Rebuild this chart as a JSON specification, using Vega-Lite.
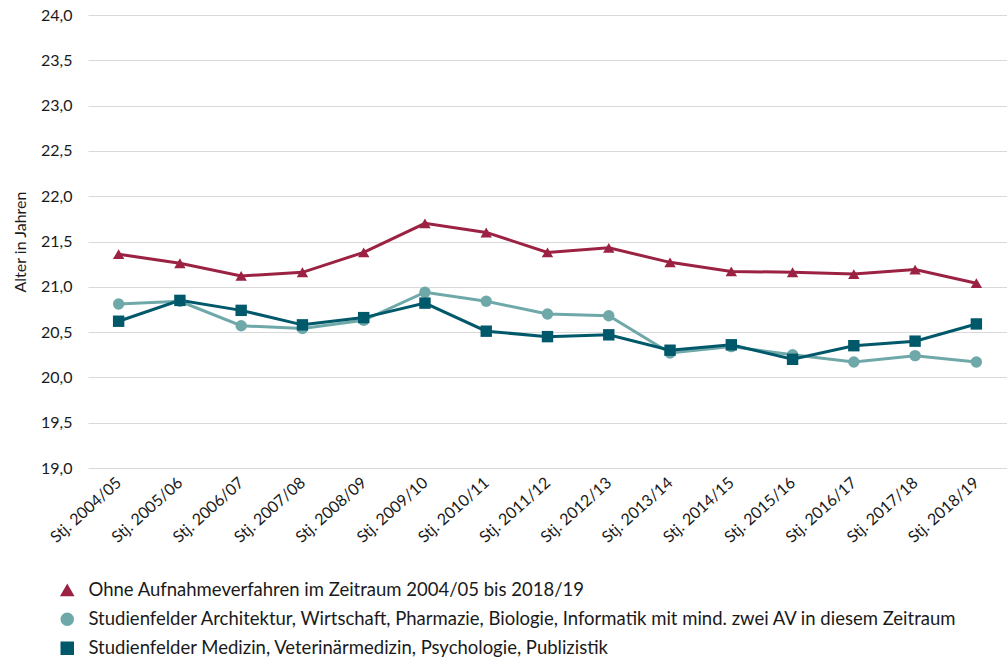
{
  "$schema": "https://vega.github.io/schema/vega-lite/v6.json",
  "autosize": {"type": "none"},
  "padding": {"left": 88, "top": 15, "right": 0, "bottom": 200},
  "width": 919,
  "height": 453,
  "background": "white",
  "config": {
    "font": "Lato",
    "view": {"stroke": null},
    "axis": {"labelColor": "#1a1a1a", "titleColor": "#1a1a1a", "labelFont": "Lato", "titleFont": "Lato"},
    "legend": {"labelFont": "Lato", "labelColor": "#1a1a1a"}
  },
  "data": {
    "values": [
      {"x": "Stj. 2004/05", "s": "Ohne Aufnahmeverfahren im Zeitraum 2004/05 bis 2018/19", "v": 21.36},
      {"x": "Stj. 2005/06", "s": "Ohne Aufnahmeverfahren im Zeitraum 2004/05 bis 2018/19", "v": 21.26},
      {"x": "Stj. 2006/07", "s": "Ohne Aufnahmeverfahren im Zeitraum 2004/05 bis 2018/19", "v": 21.12},
      {"x": "Stj. 2007/08", "s": "Ohne Aufnahmeverfahren im Zeitraum 2004/05 bis 2018/19", "v": 21.16},
      {"x": "Stj. 2008/09", "s": "Ohne Aufnahmeverfahren im Zeitraum 2004/05 bis 2018/19", "v": 21.38},
      {"x": "Stj. 2009/10", "s": "Ohne Aufnahmeverfahren im Zeitraum 2004/05 bis 2018/19", "v": 21.70},
      {"x": "Stj. 2010/11", "s": "Ohne Aufnahmeverfahren im Zeitraum 2004/05 bis 2018/19", "v": 21.60},
      {"x": "Stj. 2011/12", "s": "Ohne Aufnahmeverfahren im Zeitraum 2004/05 bis 2018/19", "v": 21.38},
      {"x": "Stj. 2012/13", "s": "Ohne Aufnahmeverfahren im Zeitraum 2004/05 bis 2018/19", "v": 21.43},
      {"x": "Stj. 2013/14", "s": "Ohne Aufnahmeverfahren im Zeitraum 2004/05 bis 2018/19", "v": 21.27},
      {"x": "Stj. 2014/15", "s": "Ohne Aufnahmeverfahren im Zeitraum 2004/05 bis 2018/19", "v": 21.17},
      {"x": "Stj. 2015/16", "s": "Ohne Aufnahmeverfahren im Zeitraum 2004/05 bis 2018/19", "v": 21.16},
      {"x": "Stj. 2016/17", "s": "Ohne Aufnahmeverfahren im Zeitraum 2004/05 bis 2018/19", "v": 21.14},
      {"x": "Stj. 2017/18", "s": "Ohne Aufnahmeverfahren im Zeitraum 2004/05 bis 2018/19", "v": 21.19},
      {"x": "Stj. 2018/19", "s": "Ohne Aufnahmeverfahren im Zeitraum 2004/05 bis 2018/19", "v": 21.04},
      {"x": "Stj. 2004/05", "s": "Studienfelder Architektur, Wirtschaft, Pharmazie, Biologie, Informatik mit mind. zwei AV in diesem Zeitraum", "v": 20.81},
      {"x": "Stj. 2005/06", "s": "Studienfelder Architektur, Wirtschaft, Pharmazie, Biologie, Informatik mit mind. zwei AV in diesem Zeitraum", "v": 20.84},
      {"x": "Stj. 2006/07", "s": "Studienfelder Architektur, Wirtschaft, Pharmazie, Biologie, Informatik mit mind. zwei AV in diesem Zeitraum", "v": 20.57},
      {"x": "Stj. 2007/08", "s": "Studienfelder Architektur, Wirtschaft, Pharmazie, Biologie, Informatik mit mind. zwei AV in diesem Zeitraum", "v": 20.54},
      {"x": "Stj. 2008/09", "s": "Studienfelder Architektur, Wirtschaft, Pharmazie, Biologie, Informatik mit mind. zwei AV in diesem Zeitraum", "v": 20.63},
      {"x": "Stj. 2009/10", "s": "Studienfelder Architektur, Wirtschaft, Pharmazie, Biologie, Informatik mit mind. zwei AV in diesem Zeitraum", "v": 20.94},
      {"x": "Stj. 2010/11", "s": "Studienfelder Architektur, Wirtschaft, Pharmazie, Biologie, Informatik mit mind. zwei AV in diesem Zeitraum", "v": 20.84},
      {"x": "Stj. 2011/12", "s": "Studienfelder Architektur, Wirtschaft, Pharmazie, Biologie, Informatik mit mind. zwei AV in diesem Zeitraum", "v": 20.70},
      {"x": "Stj. 2012/13", "s": "Studienfelder Architektur, Wirtschaft, Pharmazie, Biologie, Informatik mit mind. zwei AV in diesem Zeitraum", "v": 20.68},
      {"x": "Stj. 2013/14", "s": "Studienfelder Architektur, Wirtschaft, Pharmazie, Biologie, Informatik mit mind. zwei AV in diesem Zeitraum", "v": 20.27},
      {"x": "Stj. 2014/15", "s": "Studienfelder Architektur, Wirtschaft, Pharmazie, Biologie, Informatik mit mind. zwei AV in diesem Zeitraum", "v": 20.34},
      {"x": "Stj. 2015/16", "s": "Studienfelder Architektur, Wirtschaft, Pharmazie, Biologie, Informatik mit mind. zwei AV in diesem Zeitraum", "v": 20.25},
      {"x": "Stj. 2016/17", "s": "Studienfelder Architektur, Wirtschaft, Pharmazie, Biologie, Informatik mit mind. zwei AV in diesem Zeitraum", "v": 20.17},
      {"x": "Stj. 2017/18", "s": "Studienfelder Architektur, Wirtschaft, Pharmazie, Biologie, Informatik mit mind. zwei AV in diesem Zeitraum", "v": 20.24},
      {"x": "Stj. 2018/19", "s": "Studienfelder Architektur, Wirtschaft, Pharmazie, Biologie, Informatik mit mind. zwei AV in diesem Zeitraum", "v": 20.17},
      {"x": "Stj. 2004/05", "s": "Studienfelder Medizin, Veterinärmedizin, Psychologie, Publizistik", "v": 20.62},
      {"x": "Stj. 2005/06", "s": "Studienfelder Medizin, Veterinärmedizin, Psychologie, Publizistik", "v": 20.85},
      {"x": "Stj. 2006/07", "s": "Studienfelder Medizin, Veterinärmedizin, Psychologie, Publizistik", "v": 20.74},
      {"x": "Stj. 2007/08", "s": "Studienfelder Medizin, Veterinärmedizin, Psychologie, Publizistik", "v": 20.58},
      {"x": "Stj. 2008/09", "s": "Studienfelder Medizin, Veterinärmedizin, Psychologie, Publizistik", "v": 20.66},
      {"x": "Stj. 2009/10", "s": "Studienfelder Medizin, Veterinärmedizin, Psychologie, Publizistik", "v": 20.82},
      {"x": "Stj. 2010/11", "s": "Studienfelder Medizin, Veterinärmedizin, Psychologie, Publizistik", "v": 20.51},
      {"x": "Stj. 2011/12", "s": "Studienfelder Medizin, Veterinärmedizin, Psychologie, Publizistik", "v": 20.45},
      {"x": "Stj. 2012/13", "s": "Studienfelder Medizin, Veterinärmedizin, Psychologie, Publizistik", "v": 20.47},
      {"x": "Stj. 2013/14", "s": "Studienfelder Medizin, Veterinärmedizin, Psychologie, Publizistik", "v": 20.30},
      {"x": "Stj. 2014/15", "s": "Studienfelder Medizin, Veterinärmedizin, Psychologie, Publizistik", "v": 20.36},
      {"x": "Stj. 2015/16", "s": "Studienfelder Medizin, Veterinärmedizin, Psychologie, Publizistik", "v": 20.20},
      {"x": "Stj. 2016/17", "s": "Studienfelder Medizin, Veterinärmedizin, Psychologie, Publizistik", "v": 20.35},
      {"x": "Stj. 2017/18", "s": "Studienfelder Medizin, Veterinärmedizin, Psychologie, Publizistik", "v": 20.40},
      {"x": "Stj. 2018/19", "s": "Studienfelder Medizin, Veterinärmedizin, Psychologie, Publizistik", "v": 20.59}
    ]
  },
  "encoding": {
    "x": {
      "field": "x", "type": "nominal", "sort": null,
      "scale": {"paddingInner": 0, "paddingOuter": 0.5},
      "axis": {
        "title": null, "domain": false, "ticks": false, "grid": false,
        "labelAngle": -42, "labelAlign": "right", "labelBaseline": "middle",
        "labelPadding": 12, "labelFontSize": 16
      }
    },
    "y": {
      "field": "v", "type": "quantitative",
      "scale": {"domain": [19, 24], "nice": false, "zero": false},
      "axis": {
        "title": "Alter in Jahren", "titleFontWeight": "normal", "titleFontSize": 16,
        "titlePadding": 12,
        "values": [19, 19.5, 20, 20.5, 21, 21.5, 22, 22.5, 23, 23.5, 24],
        "labelExpr": "replace(format(datum.value, '.1f'), '.', ',')",
        "labelFontSize": 16, "labelPadding": 16,
        "domain": false, "ticks": false,
        "grid": true, "gridColor": "#d9d9d9", "gridWidth": 1.2
      }
    },
    "color": {
      "field": "s", "type": "nominal",
      "scale": {
        "domain": [
          "Ohne Aufnahmeverfahren im Zeitraum 2004/05 bis 2018/19",
          "Studienfelder Architektur, Wirtschaft, Pharmazie, Biologie, Informatik mit mind. zwei AV in diesem Zeitraum",
          "Studienfelder Medizin, Veterinärmedizin, Psychologie, Publizistik"
        ],
        "range": ["#9b2242", "#6fa8a9", "#00586b"]
      },
      "legend": {
        "title": null, "orient": "none", "direction": "vertical",
        "legendX": -30, "legendY": 566, "padding": 0,
        "symbolSize": 144, "symbolOpacity": 1,
        "labelFontSize": 18.5, "labelOffset": 12,
        "rowPadding": 10, "labelLimit": 1000
      }
    }
  },
  "layer": [
    {
      "mark": {"type": "line", "strokeWidth": 3}
    },
    {
      "mark": {"type": "point", "filled": true, "opacity": 1, "size": 130},
      "encoding": {
        "shape": {
          "field": "s", "type": "nominal", "legend": null,
          "scale": {
            "domain": [
              "Ohne Aufnahmeverfahren im Zeitraum 2004/05 bis 2018/19",
              "Studienfelder Architektur, Wirtschaft, Pharmazie, Biologie, Informatik mit mind. zwei AV in diesem Zeitraum",
              "Studienfelder Medizin, Veterinärmedizin, Psychologie, Publizistik"
            ],
            "range": ["triangle-up", "circle", "square"]
          }
        }
      }
    }
  ]
}
